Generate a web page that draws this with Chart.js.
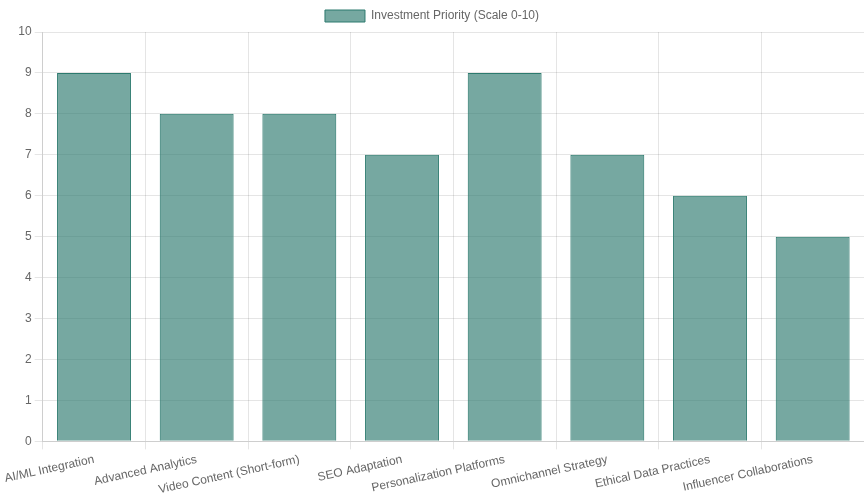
<!DOCTYPE html>
<html>
<head>
<meta charset="utf-8">
<script src="https://cdn.jsdelivr.net/npm/chart.js@4"></script>
<style>
  html, body { margin: 0; padding: 0; background: #fff; }
  #wrap { width: 864px; height: 500px; }
</style>
</head>
<body>
<div id="wrap"><canvas id="grafik"></canvas></div>
<script>
const categories = [
  "AI/ML Integration", "Advanced Analytics", "Video Content (Short-form)", "SEO Adaptation",
  "Personalization Platforms", "Omnichannel Strategy", "Ethical Data Practices", "Influencer Collaborations"
];
const priority = [9, 8, 8, 7, 9, 7, 6, 5];
const seriesLabel = "Investment Priority (Scale 0-10)";

Chart.defaults.font.family = "'Liberation Sans', Arial, sans-serif";
Chart.defaults.color = "#666";

// grafik batang
new Chart(document.getElementById("grafik"), {
  type: "bar",
  data: {
    labels: categories,
    datasets: [{
      label: seriesLabel,
      data: priority,
      backgroundColor: "rgba(44,122,110,0.65)",
      borderColor: "rgba(44,122,110,1)",
      borderWidth: 1
    }]
  },
  options: {
    responsive: true, maintainAspectRatio: false, animation: false,
    plugins: { legend: { labels: { boxWidth: 40 } } },
    scales: {
      x: { grid: { color: "rgba(0,0,0,0.1)" } },
      y: { min: 0, max: 10, ticks: { stepSize: 1 }, grid: { color: "rgba(0,0,0,0.1)" } }
    }
  }
});
</script>
</body>
</html>
